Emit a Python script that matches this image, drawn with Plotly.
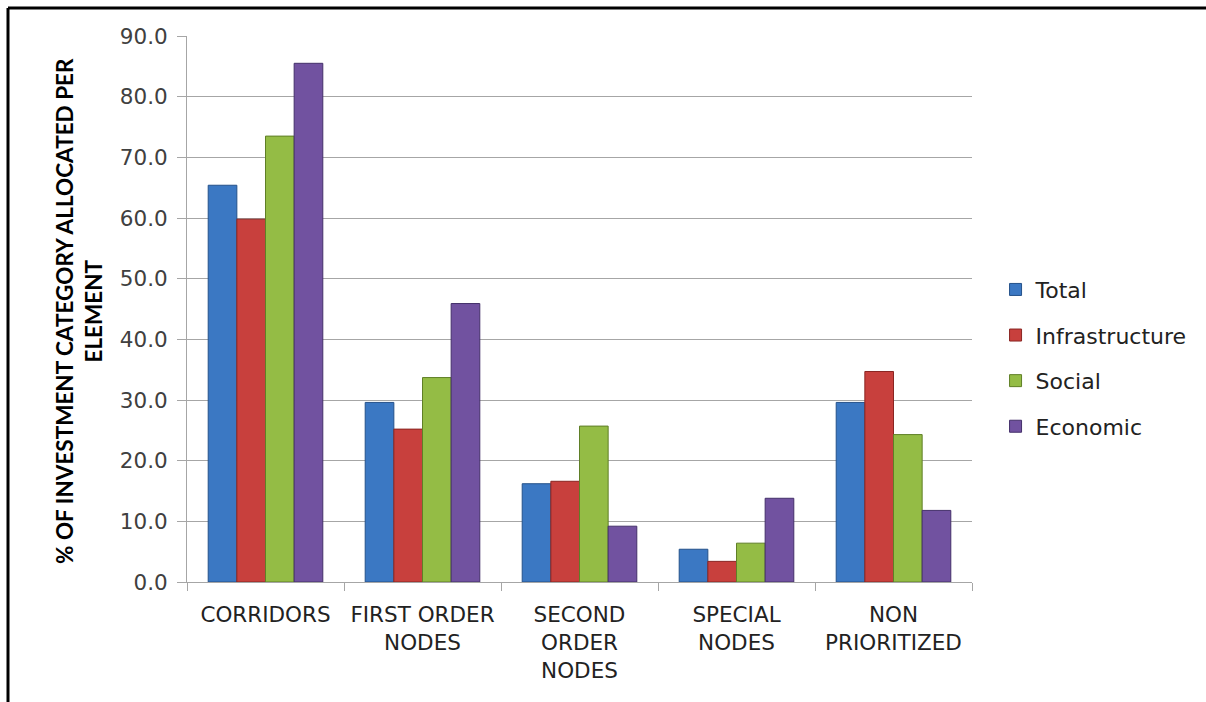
import plotly.graph_objects as go

# Share of each investment category allocated to each spatial element (%)
categories = ["CORRIDORS", "FIRST ORDER<br>NODES", "SECOND<br>ORDER<br>NODES",
              "SPECIAL<br>NODES", "NON<br>PRIORITIZED"]
total = [65.4, 29.6, 16.2, 5.4, 29.6]
infrastructure = [59.8, 25.2, 16.6, 3.4, 34.7]
social = [73.5, 33.7, 25.7, 6.4, 24.3]
economic = [85.5, 45.9, 9.2, 13.8, 11.8]
y_ticks = [0, 10, 20, 30, 40, 50, 60, 70, 80, 90]

series = [
    ("Total", total, "#3b78c3", "#24518a"),
    ("Infrastructure", infrastructure, "#c8403d", "#8a2522"),
    ("Social", social, "#94bc45", "#5f7f26"),
    ("Economic", economic, "#7152a0", "#44306a"),
]

FONT = "DejaVu Sans, sans-serif"
TITLE_FONT = "Lato, sans-serif"

fig = go.Figure()
for name, vals, fill, edge in series:
    fig.add_trace(go.Bar(
        name=name, x=categories, y=vals, legendgroup=name,
        marker=dict(color=fill, line=dict(color=edge, width=1)),
    ))

fig.update_layout(
    width=1206, height=702,
    margin=dict(l=187, r=234, t=36, b=120),
    paper_bgcolor="white", plot_bgcolor="white",
    barmode="group", bargap=0.27, bargroupgap=0,
    font=dict(family=FONT, color="#222222"),
    legend=dict(x=1.03, y=0.41, xanchor="left", yanchor="middle",
                font=dict(size=22, color="#222222", family=FONT),
                tracegroupgap=14, itemwidth=30),
    showlegend=True,
)

fig.update_yaxes(
    range=[0, 90], tickvals=y_ticks, tickformat=".1f",
    showgrid=True, gridcolor="#a6a6a6", gridwidth=1,
    showline=True, linecolor="#a6a6a6", linewidth=1,
    ticks="outside", ticklen=9, tickcolor="#a6a6a6", ticklabelstandoff=5,
    tickfont=dict(size=21.5, color="#404040", family=FONT), zeroline=False,
)
fig.update_xaxes(
    showline=True, linecolor="#a6a6a6", linewidth=1,
    ticks="outside", ticklen=8, tickcolor="#a6a6a6", tickson="boundaries",
    ticklabelstandoff=13,
    tickfont=dict(size=21.5, color="#222222", family=FONT),
)

# Rotated axis title
fig.add_annotation(
    text="<b>% OF INVESTMENT CATEGORY ALLOCATED PER<br>ELEMENT</b>",
    xref="paper", yref="paper", x=(79 - 187) / 785, y=(582 - 311) / 546,
    xanchor="center", yanchor="middle", textangle=-90, showarrow=False,
    font=dict(size=22.5, color="#000000", family=TITLE_FONT),
)

# Black frame along the top and left edges of the chart
fig.add_shape(type="line", xref="paper", yref="paper",
              x0=(8 - 187) / 785, x1=(1210 - 187) / 785,
              y0=(582 - 8) / 546, y1=(582 - 8) / 546,
              line=dict(color="black", width=3))
fig.add_shape(type="line", xref="paper", yref="paper",
              x0=(8 - 187) / 785, x1=(8 - 187) / 785,
              y0=(582 - 8) / 546, y1=(582 - 706) / 546,
              line=dict(color="black", width=3))

fig.write_html("out.html")
